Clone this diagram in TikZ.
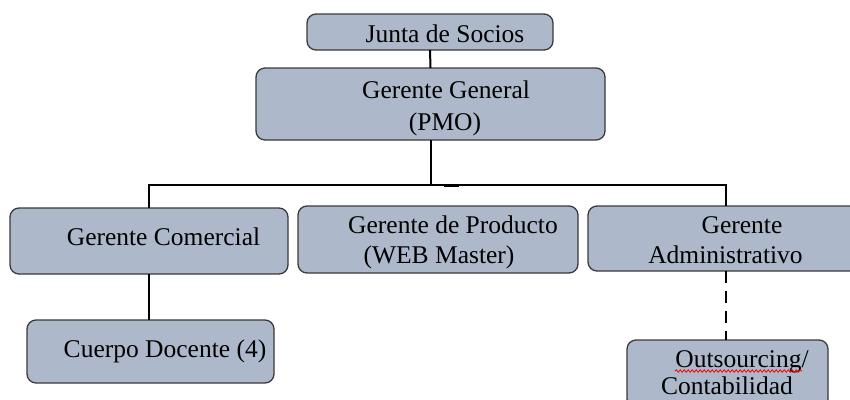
\documentclass[tikz,border=0pt]{standalone}
\usepackage{fontspec}
\setmainfont{Liberation Serif}
\newfontfamily\tnrfont{Liberation Serif}
\usetikzlibrary{decorations.pathmorphing,calc}
\definecolor{boxfill}{HTML}{ADB9CA}
\definecolor{boxline}{HTML}{3A3A3A}
\begin{document}
\begin{tikzpicture}[x=1pt,y=-1pt,
  orgbox/.style={draw=boxline,fill=boxfill,line width=1.3pt,rounded corners=9pt,
    inner sep=0pt,outer sep=0pt,minimum width=#1},
  lbl/.style={anchor=base,inner sep=0pt,font=\tnrfont\fontsize{25.5}{29}\selectfont},
  conn/.style={line width=2pt,black},
  dconn/.style={line width=2.4pt,black,dash pattern=on 12pt off 8pt}]
\useasboundingbox (0,0) rectangle (850,399);
\clip (0,0) rectangle (850,399);
% boxes
\node[orgbox=246pt,minimum height=36pt] (js) at (430,32) {};
\node[orgbox=349pt,minimum height=72pt] (gg) at (430.5,104) {};
\node[orgbox=278pt,minimum height=66pt] (gc) at (149,241) {};
\node[orgbox=280pt,minimum height=67pt] (gp) at (438,239.5) {};
\node[orgbox=284pt,minimum height=65pt] (ga) at (730,238.5) {};
\node[orgbox=247pt,minimum height=63pt] (cd) at (150.5,351.5) {};
\node[orgbox=201pt,minimum height=68pt] (os) at (727.5,374) {};
% labels
\node[lbl] (tjs) at (445,42) {Junta de Socios};
\node[lbl] (tgg1) at (446,98) {Gerente General};
\node[lbl] (tgg2) at (445,130) {(PMO)};
\node[lbl] (tgc) at (163.5,245) {Gerente Comercial};
\node[lbl] (tgp1) at (453,233) {Gerente de Producto};
\node[lbl] (tgp2) at (439,263) {(WEB Master)};
\node[lbl] (tga1) at (742,233) {Gerente};
\node[lbl] (tga2) at (725.5,263) {Administrativo};
\node[lbl] (tcd) at (165,357) {Cuerpo Docente (4)};
\node[lbl] (tos1) at (742,367) {Outsourcing/};
\node[lbl] (tos2) at (727,394) {Contabilidad};
% spell-check squiggle
\draw[red,line width=0.8pt,decorate,decoration={snake,amplitude=1.2pt,segment length=4pt}]
  (675,371) -- (802,371);
% connectors
\coordinate (bus) at (430.5,185);
\coordinate (gaTop) at (726,206);
\draw[conn] (js.south) -- (gg.north);
\draw[conn] (gg.south) -- (bus);
\draw[conn] (gc.north) |- (bus) -| (gaTop);
\draw[line width=3.5pt] ($(bus)+(13,0.5)$) -- ++(15,0);
\draw[conn] (gc.south) -- (gc.south |- cd.north);
\draw[dconn] (gaTop |- ga.south) -- (gaTop |- os.north);
\end{tikzpicture}
\end{document}
